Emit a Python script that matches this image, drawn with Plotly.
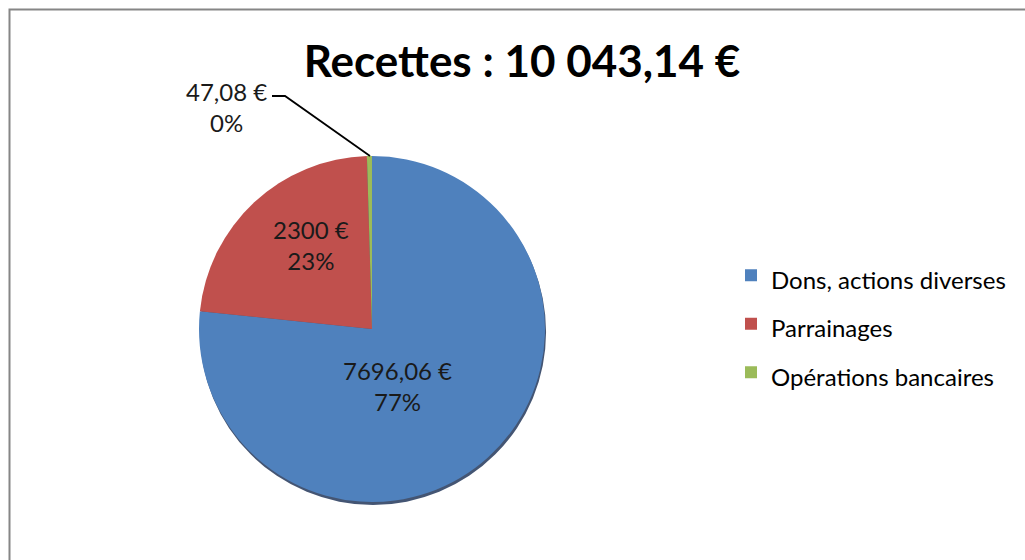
import math
import plotly.graph_objects as go

categories = ["Dons, actions diverses", "Parrainages", "Opérations bancaires"]
values = [7696.06, 2300.00, 47.08]
colors = ["#4F81BD", "#C0504D", "#9BBB59"]
title_text = "Recettes : 10 043,14 €"

W, H = 1025, 560
FONT = "Lato, 'Open Sans', sans-serif"

value_labels = [f"{v:g}".replace(".", ",") + " €" for v in values]
pcts = [v / sum(values) for v in values]
legend_labels = [f"<span style='font-size:24px'>{c}</span>" for c in categories]

# pie geometry (pixels)
cx, cy, r = 372, 329, 173
dom_x = [(cx - r) / W, (cx + r) / W]
dom_y = [(H - cy - r) / H, (H - cy + r) / H]

fig = go.Figure()

# soft shadow under the pie (bottom edge)
sh = 3
fig.add_trace(go.Pie(
    values=[1], labels=["shadow"], showlegend=False, sort=False,
    marker=dict(colors=["rgba(35,55,90,0.85)"], line=dict(width=0)),
    textinfo="none", hoverinfo="skip",
    domain=dict(x=[(cx - r + 1) / W, (cx + r + 1) / W],
                y=[(H - cy - r - sh) / H, (H - cy + r - sh) / H]),
    automargin=False,
))

fig.add_trace(go.Pie(
    labels=legend_labels,
    values=values,
    customdata=value_labels,
    sort=False,
    direction="clockwise",
    rotation=0,
    marker=dict(colors=colors, line=dict(width=0)),
    textinfo="none",
    domain=dict(x=dom_x, y=dom_y),
    automargin=False,
    hovertemplate="%{customdata}<br>%{percent:.0%}<extra></extra>",
))

# data labels placed near each slice's mid-angle (clockwise from 12 o'clock)
radial_frac = [0.36, 0.60]
angle_nudge = [18, 7]  # degrees
cum = 0.0
for i, v in enumerate(values):
    frac = v / sum(values)
    mid = (cum + frac / 2) * 2 * math.pi
    cum += frac
    if i < len(radial_frac):
        a = mid + math.radians(angle_nudge[i])
        d = radial_frac[i] * r
        px = cx + d * math.sin(a)
        py = cy - d * math.cos(a)
        fig.add_annotation(
            x=px / W, y=1 - py / H, xref="paper", yref="paper",
            xanchor="center", yanchor="middle",
            text=f"{value_labels[i]}<br>{pcts[i]:.0%}",
            showarrow=False, align="center",
            font=dict(family=FONT, size=24, color="#1a1a1a"),
        )

# label for the tiny slice with a bent leader line to the pie top
tip_x, tip_y = cx - 2, cy - r
lbl_x, lbl_y = tip_x - 144, tip_y - 49
fig.add_annotation(
    x=lbl_x / W, y=1 - lbl_y / H, xref="paper", yref="paper",
    xanchor="center", yanchor="middle",
    text=f"{value_labels[2]}<br>{pcts[2]:.0%}",
    showarrow=False, align="center",
    font=dict(family=FONT, size=24, color="#1a1a1a"),
)
pts = [(tip_x - 98, tip_y - 60), (tip_x - 85, tip_y - 60), (tip_x, tip_y)]
path = "M " + " L ".join(f"{x / W},{1 - y / H}" for x, y in pts)

fig.update_layout(
    width=W, height=H,
    margin=dict(l=0, r=0, t=0, b=0),
    paper_bgcolor="white",
    plot_bgcolor="white",
    separators=", ",
    title=dict(
        text=f"<b>{title_text}</b>",
        x=522 / W, xanchor="center",
        y=1 - 62 / H, yanchor="middle",
        font=dict(family=FONT, size=44, color="#000000"),
    ),
    legend=dict(
        x=731 / W, xanchor="left",
        y=1 - 324 / H, yanchor="middle",
        font=dict(family=FONT, size=35, color="#000000"),
        bgcolor="rgba(0,0,0,0)",
        traceorder="normal",
    ),
    shapes=[
        dict(type="rect", xref="paper", yref="paper",
             x0=9.5 / W, x1=1.02, y0=-0.02, y1=1 - 9.5 / H,
             line=dict(color="#868686", width=2),
             fillcolor="rgba(0,0,0,0)", layer="below"),
        dict(type="path", xref="paper", yref="paper", path=path,
             line=dict(color="#000000", width=1.8)),
    ],
)

fig.write_html("out.html")
